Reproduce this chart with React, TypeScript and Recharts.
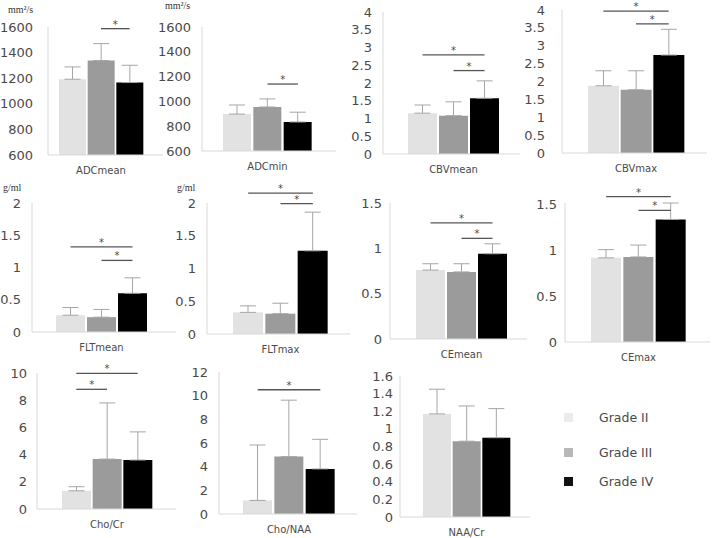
import React from 'react';
import { BarChart, Bar, Cell, XAxis, YAxis, ErrorBar, ReferenceLine, Label } from 'recharts';

const GRADES = ['Grade II', 'Grade III', 'Grade IV'];
const COLORS = ['#e2e2e2', '#9b9b9b', '#000000'];
const LEGEND_COLORS = ['#ececec', '#b8b8b8', '#111111'];

// mean and one-sided SD per grade
const ADC_MEAN = [1192, 1338, 1166];
const ADC_MEAN_SD = [96, 132, 135];
const ADC_MIN = [898, 955, 834];
const ADC_MIN_SD = [73, 65, 79];
const CBV_MEAN = [1.15, 1.08, 1.57];
const CBV_MEAN_SD = [0.23, 0.39, 0.49];
const CBV_MAX = [1.88, 1.77, 2.74];
const CBV_MAX_SD = [0.42, 0.53, 0.72];
const FLT_MEAN = [0.26, 0.23, 0.6];
const FLT_MEAN_SD = [0.12, 0.12, 0.24];
const FLT_MAX = [0.33, 0.31, 1.27];
const FLT_MAX_SD = [0.1, 0.16, 0.59];
const CE_MEAN = [0.76, 0.74, 0.94];
const CE_MEAN_SD = [0.07, 0.09, 0.11];
const CE_MAX = [0.92, 0.93, 1.34];
const CE_MAX_SD = [0.09, 0.13, 0.18];
const CHO_CR = [1.34, 3.67, 3.6];
const CHO_CR_SD = [0.3, 4.13, 2.07];
const CHO_NAA = [1.15, 4.85, 3.81];
const CHO_NAA_SD = [4.68, 4.77, 2.5];
const NAA_CR = [1.17, 0.86, 0.9];
const NAA_CR_SD = [0.28, 0.4, 0.33];

// y ticks
const TICKS_ADC = [600, 800, 1000, 1200, 1400, 1600];
const TICKS_CBV = [0, 0.5, 1, 1.5, 2, 2.5, 3, 3.5, 4];
const TICKS_FLT = [0, 0.5, 1, 1.5, 2];
const TICKS_CE = [0, 0.5, 1, 1.5];
const TICKS_CHO_CR = [0, 2, 4, 6, 8, 10];
const TICKS_CHO_NAA = [0, 2, 4, 6, 8, 10, 12];
const TICKS_NAA_CR = [0, 0.2, 0.4, 0.6, 0.8, 1, 1.2, 1.4, 1.6];

// significance brackets: [from grade, to grade, height]
const SIG_ADC_MEAN = [[1, 2, 1587]];
const SIG_ADC_MIN = [[1, 2, 1140]];
const SIG_CBV_MEAN = [[0, 2, 2.79], [1, 2, 2.35]];
const SIG_CBV_MAX = [[0, 2, 3.97], [1, 2, 3.61]];
const SIG_FLT_MEAN = [[0, 2, 1.32], [1, 2, 1.11]];
const SIG_FLT_MAX = [[0, 2, 2.15], [1, 2, 1.99]];
const SIG_CE_MEAN = [[0, 2, 1.28], [1, 2, 1.11]];
const SIG_CE_MAX = [[0, 2, 1.59], [1, 2, 1.44]];
const SIG_CHO_CR = [[0, 2, 9.97], [0, 1, 8.8]];
const SIG_CHO_NAA = [[0, 2, 10.5]];

const PANELS = [
  { name: 'ADCmean', mean: ADC_MEAN, sd: ADC_MEAN_SD, ticks: TICKS_ADC, sig: SIG_ADC_MEAN, left: 0, x0: 48, x1: 163, yTop: 27, yBot: 155, L: 59, R: 143, gap: 15 },
  { name: 'ADCmin', mean: ADC_MIN, sd: ADC_MIN_SD, ticks: TICKS_ADC, sig: SIG_ADC_MIN, left: 155, x0: 202, x1: 336, yTop: 27, yBot: 151, L: 223, R: 312, gap: 11 },
  { name: 'CBVmean', mean: CBV_MEAN, sd: CBV_MEAN_SD, ticks: TICKS_CBV, sig: SIG_CBV_MEAN, left: 346, x0: 383, x1: 520, yTop: 12, yBot: 154, L: 408, R: 499, gap: 11 },
  { name: 'CBVmax', mean: CBV_MAX, sd: CBV_MAX_SD, ticks: TICKS_CBV, sig: SIG_CBV_MAX, left: 520, x0: 562, x1: 707, yTop: 10, yBot: 153, L: 588, R: 684, gap: 17 },
  { name: 'FLTmean', mean: FLT_MEAN, sd: FLT_MEAN_SD, ticks: TICKS_FLT, sig: SIG_FLT_MEAN, left: 0, x0: 32, x1: 176, yTop: 203, yBot: 332, L: 56, R: 147, gap: 11 },
  { name: 'FLTmax', mean: FLT_MAX, sd: FLT_MAX_SD, ticks: TICKS_FLT, sig: SIG_FLT_MAX, left: 170, x0: 207, x1: 350, yTop: 203, yBot: 334, L: 233, R: 328, gap: 11 },
  { name: 'CEmean', mean: CE_MEAN, sd: CE_MEAN_SD, ticks: TICKS_CE, sig: SIG_CE_MEAN, left: 352, x0: 390, x1: 527, yTop: 203, yBot: 339, L: 416, R: 507, gap: 8 },
  { name: 'CEmax', mean: CE_MAX, sd: CE_MAX_SD, ticks: TICKS_CE, sig: SIG_CE_MAX, left: 530, x0: 565, x1: 710, yTop: 203, yBot: 342, L: 591, R: 686, gap: 8 },
  { name: 'Cho/Cr', mean: CHO_CR, sd: CHO_CR_SD, ticks: TICKS_CHO_CR, sig: SIG_CHO_CR, left: 0, x0: 37, x1: 176, yTop: 373, yBot: 509, L: 62, R: 152, gap: 10 },
  { name: 'Cho/NAA', mean: CHO_NAA, sd: CHO_NAA_SD, ticks: TICKS_CHO_NAA, sig: SIG_CHO_NAA, left: 180, x0: 219, x1: 357, yTop: 372, yBot: 514, L: 243, R: 335, gap: 11 },
  { name: 'NAA/Cr', mean: NAA_CR, sd: NAA_CR_SD, ticks: TICKS_NAA_CR, sig: [], left: 360, x0: 400, x1: 530, yTop: 376, yBot: 517, L: 423, R: 510, gap: 7 },
];

const UNITS = [
  { text: 'mm²/s', x: 8, y: 4 },
  { text: 'mm²/s', x: 165, y: 0 },
  { text: 'g/ml', x: 3, y: 182 },
  { text: 'g/ml', x: 177, y: 182 },
];

const FONT = '"DejaVu Sans", sans-serif';
const TEXT = '#4a4a4a';
const MT = 24;
const XH = 30;

function Panel({ p }: { p: any }) {
  const top = p.yTop - MT;
  const width = p.x1 - p.left + 2;
  const height = p.yBot - top + XH;
  const yW = p.x0 - p.left;
  const padL = p.L - 1 - p.x0;
  const padR = p.x1 - (p.R + 1);
  const data = GRADES.map((g, i) => ({ grade: g, value: p.mean[i], err: [0, p.sd[i]] }));
  const lo = p.ticks[0];
  const hi = p.ticks[p.ticks.length - 1];

  // category name centred under the bar group
  const renderName = (props: any) => {
    const vb = props.viewBox;
    const cx = vb.x + padL + (vb.width - padL - padR) / 2;
    return (
      <text x={cx} y={vb.y + 15} textAnchor="middle" dominantBaseline="central" fontSize={10} fill={TEXT} fontFamily={FONT}>
        {p.name}
      </text>
    );
  };

  return (
    <div style={{ position: 'absolute', left: p.left, top, width, height }}>
      <BarChart width={width} height={height} data={data} margin={{ top: MT, right: 2, bottom: 0, left: 0 }} barCategoryGap={1}>
        <XAxis
          dataKey="grade"
          tick={false}
          tickLine={false}
          height={XH}
          axisLine={{ stroke: '#d9d9d9' }}
          padding={{ left: padL, right: padR }}
        >
          <Label content={renderName} />
        </XAxis>
        <YAxis
          type="number"
          domain={[lo, hi]}
          ticks={p.ticks}
          interval={0}
          width={yW}
          tickSize={0}
          tickMargin={p.gap}
          tickLine={false}
          axisLine={{ stroke: '#d9d9d9' }}
          tick={{ fontSize: 13, fill: TEXT, fontFamily: FONT }}
        />
        <Bar dataKey="value" isAnimationActive={false}>
          {data.map((d, i) => (
            <Cell key={d.grade} fill={COLORS[i]} />
          ))}
          <ErrorBar dataKey="err" direction="y" width={8} stroke="#a6a6a6" strokeWidth={1} isAnimationActive={false} />
        </Bar>
        {p.sig.map(([a, b, y]: number[], k: number) => (
          <ReferenceLine
            key={k}
            segment={[{ x: GRADES[a], y }, { x: GRADES[b], y }]}
            stroke="#555555"
            strokeWidth={1.3}
            ifOverflow="visible"
            label={{ value: '*', position: 'top', offset: 1, fontSize: 10, fill: TEXT, fontFamily: FONT }}
          />
        ))}
      </BarChart>
    </div>
  );
}

export default function App() {
  return (
    <div style={{ position: 'absolute', left: 0, top: 0, width: 714, height: 538, background: '#fff', overflow: 'hidden' }}>
      {PANELS.map((p) => (
        <Panel key={p.name} p={p} />
      ))}
      {UNITS.map((u, i) => (
        <div key={i} style={{ position: 'absolute', left: u.x, top: u.y, fontFamily: '"Liberation Serif", serif', fontSize: 10, color: '#333' }}>
          {u.text}
        </div>
      ))}
      {GRADES.map((g, i) => (
        <div key={g} style={{ position: 'absolute', left: 564, top: [417, 452, 481][i] - 9, height: 18, display: 'flex', alignItems: 'center' }}>
          <span style={{ width: 9, height: 9, background: LEGEND_COLORS[i], display: 'inline-block' }} />
          <span style={{ marginLeft: 26, fontFamily: FONT, fontSize: 12.5, color: TEXT }}>{g}</span>
        </div>
      ))}
    </div>
  );
}
